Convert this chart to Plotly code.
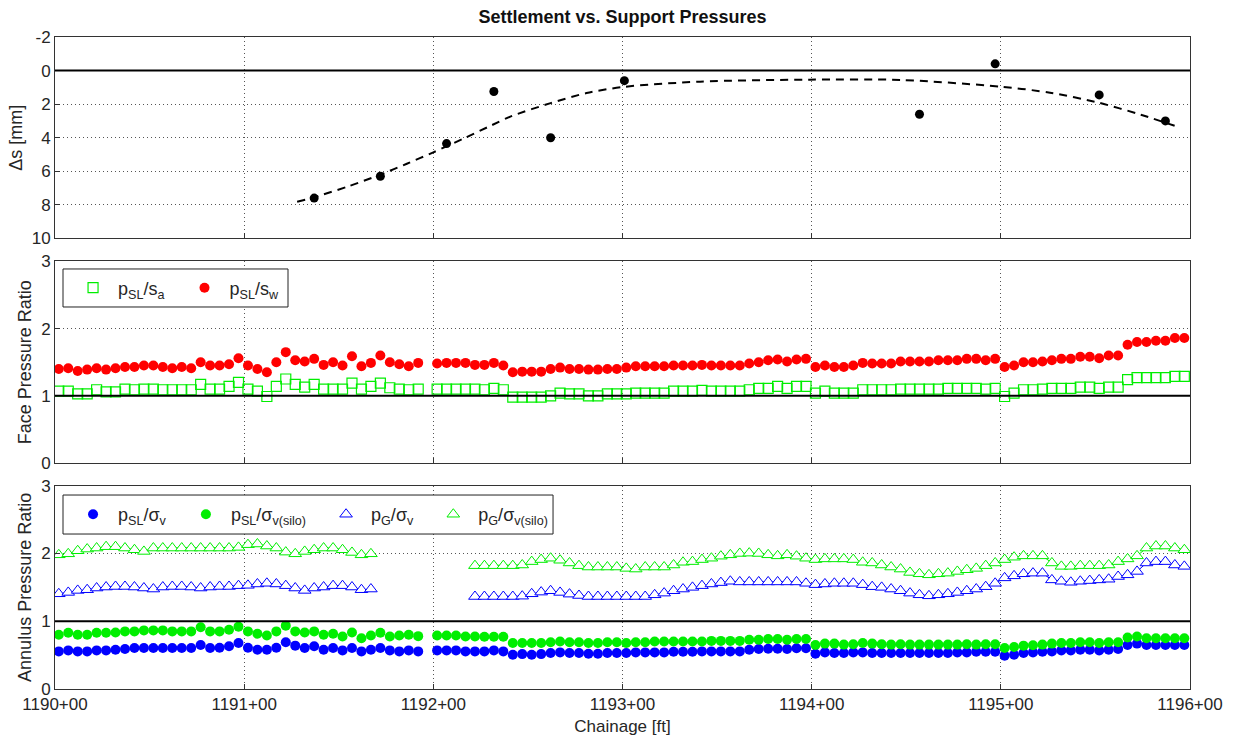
import plotly.graph_objects as go
from plotly.subplots import make_subplots

# ---------------- data ----------------
# chainage in hundreds of feet (1190.00 == 1190+00), one value per ring (5 ft apart)
chainage = [round(1190.02 + 0.05 * i, 2) for i in range(120)]
x_ticks = [1190, 1191, 1192, 1193, 1194, 1195, 1196]
x_ticklabels = ["1190+00", "1191+00", "1192+00", "1193+00", "1194+00", "1195+00", "1196+00"]

# settlement survey points
settle_x = [1191.37, 1191.72, 1192.07, 1192.32, 1192.62, 1193.01, 1194.57, 1194.97, 1195.52, 1195.87]
settle_y = [7.6, 6.3, 4.35, 1.25, 4.0, 0.6, 2.6, -0.4, 1.45, 3.0]

# trend curve
trend_x = [1191.28, 1191.37, 1191.55, 1191.72, 1191.86, 1192.00, 1192.16, 1192.31, 1192.41, 1192.62,
           1192.81, 1193.00, 1193.41, 1193.99, 1194.47, 1195.00, 1195.26, 1195.52, 1195.74, 1195.95]
trend_y = [7.82, 7.55, 6.90, 6.20, 5.55, 4.87, 4.05, 3.25, 2.73, 1.94,
           1.34, 0.98, 0.66, 0.54, 0.56, 0.96, 1.32, 1.92, 2.63, 3.41]

N = None
# face pressure ratio p_SL / s_w (red dots)
face_w = ([1.40, 1.41, 1.37, 1.39, 1.41, 1.39, 1.41, 1.43, 1.43, 1.45, 1.45, 1.43, 1.41, 1.43, 1.41,
           1.50, 1.45, 1.45, 1.47, 1.56, 1.45, 1.40, 1.35, 1.50, 1.65, 1.53, 1.51, 1.55, 1.46, 1.50,
           1.45, 1.59, 1.44, 1.49, 1.60, 1.50, 1.47, 1.44, 1.49, N,
           1.48, 1.49, 1.49, 1.49, 1.46, 1.46, 1.49, 1.45,
           1.35, 1.36, 1.36, 1.36, 1.40, 1.42, 1.40, 1.40, 1.39, 1.39, 1.40, 1.40, 1.42, 1.44, 1.44,
           1.44, 1.44, 1.45, 1.45, 1.45, 1.46, 1.45, 1.45, 1.45, 1.45, 1.48, 1.50, 1.53, 1.54, 1.51,
           1.54, 1.55, 1.43,
           1.45, 1.43, 1.43, 1.45, 1.49, 1.48, 1.48, 1.48, 1.51, 1.51, 1.51, 1.51, 1.53, 1.53, 1.53,
           1.55, 1.55, 1.53, 1.55, 1.43, 1.45, 1.50, 1.50, 1.51, 1.53, 1.55, 1.55, 1.58, 1.58, 1.56,
           1.60, 1.60, 1.76, 1.80, 1.80, 1.82, 1.82, 1.86, 1.86])
# face pressure ratio p_SL / s_a (green squares)
face_a = ([1.07, 1.07, 1.03, 1.03, 1.09, 1.06, 1.06, 1.10, 1.09, 1.10, 1.10, 1.09, 1.09, 1.09, 1.09,
           1.17, 1.10, 1.10, 1.14, 1.20, 1.10, 1.07, 0.99, 1.14, 1.25, 1.17, 1.13, 1.17, 1.10, 1.10,
           1.10, 1.19, 1.10, 1.14, 1.19, 1.12, 1.10, 1.09, 1.10, N,
           1.10, 1.10, 1.10, 1.10, 1.10, 1.09, 1.11, 1.09,
           0.98, 0.98, 0.98, 0.98, 1.00, 1.04, 1.03, 1.03, 1.00, 1.00, 1.03, 1.03, 1.03, 1.04, 1.04,
           1.04, 1.04, 1.07, 1.07, 1.07, 1.08, 1.07, 1.07, 1.07, 1.07, 1.09, 1.11, 1.11, 1.14, 1.11,
           1.14, 1.14, 1.04,
           1.07, 1.04, 1.04, 1.04, 1.09, 1.09, 1.09, 1.09, 1.10, 1.10, 1.10, 1.10, 1.10, 1.11, 1.11,
           1.11, 1.11, 1.10, 1.11, 0.99, 1.04, 1.09, 1.09, 1.10, 1.11, 1.11, 1.11, 1.13, 1.13, 1.11,
           1.13, 1.13, 1.24, 1.27, 1.27, 1.27, 1.27, 1.29, 1.29])
# annulus: p_SL / sigma_v (blue dots)
ann_sl_v = ([0.555, 0.57, 0.555, 0.555, 0.57, 0.57, 0.58, 0.59, 0.605, 0.605, 0.605, 0.605, 0.605,
             0.605, 0.605, 0.65, 0.605, 0.61, 0.63, 0.68, 0.61, 0.58, 0.58, 0.61, 0.69, 0.64, 0.605,
             0.63, 0.58, 0.605, 0.57, 0.605, 0.555, 0.58, 0.605, 0.57, 0.555, 0.57, 0.555, N,
             0.57, 0.57, 0.57, 0.555, 0.555, 0.555, 0.57, 0.555,
             0.506, 0.515, 0.506, 0.515, 0.53, 0.54, 0.53, 0.53, 0.52, 0.52, 0.53, 0.53, 0.53, 0.54,
             0.54, 0.54, 0.54, 0.55, 0.55, 0.55, 0.555, 0.555, 0.555, 0.555, 0.555, 0.58, 0.59, 0.595,
             0.595, 0.59, 0.60, 0.60, 0.52,
             0.54, 0.53, 0.53, 0.54, 0.54, 0.53, 0.53, 0.53, 0.53, 0.53, 0.53, 0.53, 0.53, 0.53, 0.54,
             0.54, 0.55, 0.55, 0.55, 0.49, 0.506, 0.53, 0.54, 0.55, 0.555, 0.57, 0.57, 0.58, 0.58,
             0.57, 0.58, 0.59, 0.65, 0.67, 0.65, 0.65, 0.65, 0.65, 0.65])
# annulus: p_SL / sigma_v(silo) (green dots)
ann_sl_silo = ([0.80, 0.83, 0.80, 0.80, 0.83, 0.83, 0.835, 0.85, 0.85, 0.865, 0.865, 0.865, 0.85,
                0.85, 0.85, 0.91, 0.85, 0.85, 0.875, 0.92, 0.85, 0.815, 0.79, 0.85, 0.935, 0.85, 0.835,
                0.85, 0.80, 0.815, 0.776, 0.835, 0.75, 0.79, 0.83, 0.776, 0.79, 0.80, 0.78, N,
                0.79, 0.79, 0.79, 0.776, 0.776, 0.77, 0.77, 0.77,
                0.68, 0.68, 0.68, 0.68, 0.69, 0.70, 0.69, 0.69, 0.68, 0.68, 0.69, 0.69, 0.68, 0.69,
                0.69, 0.70, 0.70, 0.70, 0.70, 0.70, 0.70, 0.71, 0.71, 0.71, 0.71, 0.727, 0.727, 0.737,
                0.737, 0.727, 0.737, 0.737, 0.65,
                0.67, 0.67, 0.655, 0.66, 0.68, 0.67, 0.66, 0.655, 0.66, 0.655, 0.655, 0.655, 0.655,
                0.655, 0.655, 0.66, 0.655, 0.66, 0.66, 0.605, 0.62, 0.64, 0.645, 0.655, 0.67, 0.68,
                0.68, 0.69, 0.69, 0.68, 0.69, 0.69, 0.76, 0.776, 0.75, 0.75, 0.75, 0.75, 0.75])
# annulus: p_G / sigma_v (blue triangles)
ann_g_v = ([1.405, 1.425, 1.455, 1.465, 1.49, 1.505, 1.513, 1.513, 1.505, 1.49, 1.475, 1.505, 1.513,
            1.513, 1.505, 1.49, 1.505, 1.513, 1.513, 1.525, 1.53, 1.55, 1.56, 1.55, 1.525, 1.49,
            1.455, 1.49, 1.505, 1.525, 1.525, 1.505, 1.465, 1.475,
            N, N, N, N, N, N, N, N, N, N,
            1.365, 1.365, 1.365, 1.365, 1.365, 1.37, 1.405, 1.43, 1.45, 1.425, 1.40, 1.38, 1.365,
            1.365, 1.365, 1.365, 1.365, 1.365, 1.365, 1.39, 1.415, 1.45, 1.475, 1.50, 1.525, 1.55,
            1.57, 1.59, 1.58, 1.58, 1.58, 1.58, 1.58, 1.58, 1.58,
            1.56, 1.54, 1.55, 1.56, 1.56, 1.56, 1.54, 1.51, 1.50, 1.475, 1.45, 1.415, 1.39, 1.375,
            1.39, 1.405, 1.425, 1.45, 1.475, 1.51, 1.56, 1.64, 1.67, 1.70, 1.71, 1.71, 1.61, 1.59,
            1.575, 1.59, 1.60, 1.61, 1.62, 1.66, 1.685, 1.735, 1.86, 1.88, 1.88, 1.83, 1.81])
# annulus: p_G / sigma_v(silo) (green triangles)
ann_g_silo = ([1.98, 1.995, 2.04, 2.065, 2.08, 2.10, 2.10, 2.08, 2.055, 2.03, 2.08, 2.08, 2.08, 2.08,
               2.08, 2.08, 2.08, 2.08, 2.08, 2.09, 2.13, 2.14, 2.11, 2.08, 2.02, 1.995, 2.03, 2.055,
               2.08, 2.08, 2.055, 2.015, 1.98, 1.995,
               N, N, N, N, N, N, N, N, N, N,
               1.82, 1.82, 1.82, 1.82, 1.82, 1.83, 1.88, 1.91, 1.93, 1.90, 1.86, 1.82, 1.80, 1.80,
               1.80, 1.80, 1.78, 1.77, 1.80, 1.80, 1.80, 1.83, 1.87, 1.88, 1.91, 1.93, 1.96, 1.98,
               2.00, 2.005, 2.00, 1.98, 1.965, 1.98, 1.96,
               1.93, 1.91, 1.92, 1.92, 1.92, 1.91, 1.87, 1.86, 1.83, 1.80, 1.77, 1.72, 1.70, 1.685,
               1.70, 1.71, 1.735, 1.76, 1.78, 1.82, 1.86, 1.91, 1.945, 1.965, 1.965, 1.965, 1.86,
               1.81, 1.81, 1.82, 1.82, 1.82, 1.83, 1.88, 1.92, 1.965, 2.08, 2.11, 2.11, 2.08, 2.055])

# ---------------- figure ----------------
FONT = "Arial, Liberation Sans, Helvetica, sans-serif"
TXT = "#262626"
GREEN = "#00EE00"
BLUE = "#0000FF"
RED = "#FF0000"
SP = "&nbsp;"

fig = make_subplots(rows=3, cols=1, shared_xaxes=True)

# top panel
fig.add_trace(go.Scatter(x=trend_x, y=trend_y, mode="lines", showlegend=False,
                         line=dict(color="black", width=2, dash="8px,6px", shape="spline",
                                   smoothing=0.8)), row=1, col=1)
fig.add_trace(go.Scatter(x=settle_x, y=settle_y, mode="markers", showlegend=False,
                         marker=dict(color="black", size=9)), row=1, col=1)

# middle panel
fig.add_trace(go.Scatter(x=chainage, y=face_a, mode="markers",
                         name=SP + "p<sub>SL</sub>/s<sub>a</sub>" + SP * 3,
                         legend="legend",
                         marker=dict(symbol="square-open", color=GREEN, size=10, line=dict(width=1.2))),
              row=2, col=1)
fig.add_trace(go.Scatter(x=chainage, y=face_w, mode="markers",
                         name=SP + "p<sub>SL</sub>/s<sub>w</sub>",
                         legend="legend", marker=dict(symbol="circle", color=RED, size=10)), row=2, col=1)

# bottom panel
fig.add_trace(go.Scatter(x=chainage, y=ann_sl_v, mode="markers",
                         name=SP + "p<sub>SL</sub>/σ<sub>v</sub>" + SP * 3,
                         legend="legend2", marker=dict(symbol="circle", color=BLUE, size=10)), row=3, col=1)
fig.add_trace(go.Scatter(x=chainage, y=ann_sl_silo, mode="markers",
                         name=SP + "p<sub>SL</sub>/σ<sub>v(silo)</sub>" + SP * 3,
                         legend="legend2", marker=dict(symbol="circle", color=GREEN, size=10)), row=3, col=1)
fig.add_trace(go.Scatter(x=chainage, y=ann_g_v, mode="lines", showlegend=False, legend="legend2",
                         line=dict(color=BLUE, width=1)), row=3, col=1)
fig.add_trace(go.Scatter(x=chainage, y=ann_g_v, mode="markers",
                         name=SP + "p<sub>G</sub>/σ<sub>v</sub>" + SP * 3,
                         legend="legend2",
                         marker=dict(symbol="triangle-up", color="white", size=11,
                                     line=dict(color=BLUE, width=1))), row=3, col=1)
fig.add_trace(go.Scatter(x=chainage, y=ann_g_silo, mode="lines", showlegend=False, legend="legend2",
                         line=dict(color=GREEN, width=1)), row=3, col=1)
fig.add_trace(go.Scatter(x=chainage, y=ann_g_silo, mode="markers",
                         name=SP + "p<sub>G</sub>/σ<sub>v(silo)</sub>", legend="legend2",
                         marker=dict(symbol="triangle-up", color="white", size=11,
                                     line=dict(color=GREEN, width=1))), row=3, col=1)

axis_style = dict(showline=True, linecolor="#333333", linewidth=1, mirror=True,
                  ticks="inside", ticklen=5, tickcolor="#333333", automargin=False,
                  showgrid=True, gridcolor="#555555", griddash="1px,3px", gridwidth=1,
                  zeroline=False, tickfont=dict(family=FONT, size=17, color=TXT))

for r in (1, 2, 3):
    fig.update_xaxes(axis_style, range=[1190, 1196], tickvals=x_ticks, ticktext=x_ticklabels,
                     showticklabels=(r == 3), row=r, col=1)

TF = dict(family=FONT, size=18, color=TXT)
fig.update_yaxes(axis_style, range=[10, -2], tickvals=[-2, 0, 2, 4, 6, 8, 10],
                 ticktext=["-2", "0", "2", "4", "6", "8", "10"],
                 title=dict(text="Δs [mm]", font=TF, standoff=4), row=1, col=1)
fig.update_yaxes(axis_style, range=[0, 3], tickvals=[0, 1, 2, 3],
                 title=dict(text="Face Pressure Ratio", font=TF, standoff=4), row=2, col=1)
fig.update_yaxes(axis_style, range=[0, 3], tickvals=[0, 1, 2, 3],
                 title=dict(text="Annulus Pressure Ratio", font=TF, standoff=4), row=3, col=1)
fig.update_xaxes(title=dict(text="Chainage [ft]", font=dict(family=FONT, size=17, color=TXT), standoff=6),
                 row=3, col=1)

# reference lines
fig.add_shape(type="line", xref="x domain", yref="y", x0=0, x1=1, y0=0, y1=0,
              line=dict(color="black", width=2))
fig.add_shape(type="line", xref="x2 domain", yref="y2", x0=0, x1=1, y0=1, y1=1,
              line=dict(color="black", width=2))
fig.add_shape(type="line", xref="x3 domain", yref="y3", x0=0, x1=1, y0=1, y1=1,
              line=dict(color="black", width=2))

# legend boxes (opaque, framed like the original)
fig.add_shape(type="rect", xref="paper", yref="paper", x0=0.00705, x1=0.2053, y0=0.5859, y1=0.6442,
              fillcolor="white", line=dict(color="#222222", width=1), layer="above")
fig.add_shape(type="rect", xref="paper", yref="paper", x0=0.00705, x1=0.4388, y0=0.2377, y1=0.2975,
              fillcolor="white", line=dict(color="#222222", width=1), layer="above")

legend_style = dict(orientation="h", bgcolor="rgba(0,0,0,0)", borderwidth=0,
                    xanchor="left", yanchor="middle", font=dict(family=FONT, size=18, color=TXT),
                    itemwidth=30, tracegroupgap=0)

fig.update_layout(
    width=1234, height=738,
    margin=dict(l=55, r=44, t=37, b=49),
    paper_bgcolor="white", plot_bgcolor="white",
    font=dict(family=FONT, color=TXT),
    title=dict(text="<b>Settlement vs. Support Pressures</b>", x=0.5, xref="paper",
               y=1 - 17 / 738, yref="container", yanchor="middle", xanchor="center",
               font=dict(family=FONT, size=18, color="#111111")),
    yaxis=dict(domain=[0.6911, 1.0]),
    yaxis2=dict(domain=[0.3466, 0.6558]),
    yaxis3=dict(domain=[0.0, 0.3118]),
    legend=dict(legend_style, x=0.0159, y=0.615),
    legend2=dict(legend_style, x=0.0159, y=0.2676),
)

fig.write_html("out.html")
